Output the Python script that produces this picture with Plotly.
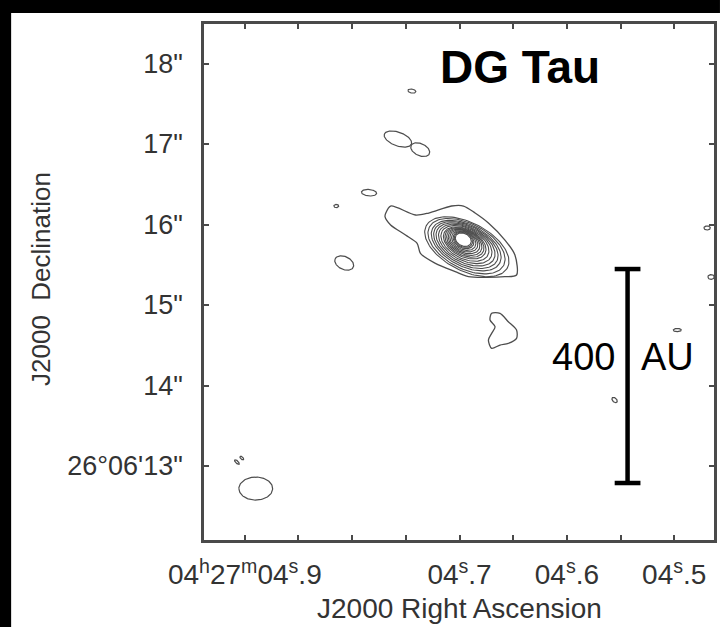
import numpy as np
import plotly.graph_objects as go

# ---------------- data (RA = seconds of 04h27m04s.x, Dec = arcsec of +26d06') ----------------
ARCSEC_PER_S = 13.42   # arcsec of sky per second of RA at this declination

# outer irregular contour around the jet/disk
outer_ra = [0.7688, 0.7642, 0.7410, 0.7287, 0.7074, 0.6963, 0.6855, 0.6731, 0.6577, 0.6484,
            0.6469, 0.6577, 0.6917, 0.7040, 0.7225, 0.7364, 0.7395, 0.7503, 0.7642, 0.7694, 0.7688]
outer_dec = [16.139, 16.230, 16.118, 16.143, 16.230, 16.230, 16.143, 16.019, 15.807, 15.621,
             15.373, 15.352, 15.352, 15.414, 15.518, 15.642, 15.767, 15.870, 15.994, 16.097, 16.139]

# kidney-shaped contour to the south-west
kidney_ra = [0.6701, 0.6623, 0.6546, 0.6469, 0.6469, 0.6546, 0.6623, 0.6701, 0.6731, 0.6701,
             0.6669, 0.6716, 0.6701]
kidney_dec = [14.897, 14.897, 14.793, 14.689, 14.586, 14.524, 14.503, 14.462, 14.565, 14.648,
              14.730, 14.814, 14.897]

# nested contours of the central source (centre, semi-axes in arcsec, position angle in deg)
ring_ra = [0.6932, 0.6935, 0.6938, 0.6941, 0.6944, 0.6947, 0.6950, 0.6952, 0.6954, 0.6956,
           0.6958, 0.6960, 0.6961, 0.6963, 0.6964, 0.6965]
ring_dec = [15.724, 15.731, 15.738, 15.745, 15.752, 15.759, 15.766, 15.772, 15.778, 15.784,
            15.790, 15.796, 15.801, 15.807, 15.810, 15.812]
ring_a = [0.571, 0.522, 0.472, 0.435, 0.398, 0.360, 0.323, 0.286, 0.261, 0.236,
          0.211, 0.186, 0.161, 0.137, 0.120, 0.105]
ring_b = [0.300, 0.280, 0.258, 0.240, 0.222, 0.205, 0.188, 0.170, 0.158, 0.146,
          0.134, 0.122, 0.110, 0.098, 0.088, 0.078]
ring_pa = [63, 63, 63, 63, 63, 63, 63, 63, 63, 63, 63, 63, 63, 63, 63, 63]

# small compact contours: two lobes of the figure-eight, small islands, the beam (lower left)
blob_ra = [0.7574, 0.7366, 0.7843, 0.8074, 0.8898, 0.7444, 0.8148, 0.9074, 0.9028, 0.4694,
           0.4657, 0.4972, 0.5556]
blob_dec = [17.062, 16.930, 16.395, 15.522, 12.720, 17.658, 16.230, 13.050, 13.099, 15.957,
            15.348, 14.689, 13.820]
blob_a = [0.180, 0.125, 0.095, 0.125, 0.211, 0.050, 0.030, 0.040, 0.030, 0.040, 0.040, 0.050, 0.040]
blob_b = [0.085, 0.075, 0.040, 0.080, 0.143, 0.025, 0.020, 0.015, 0.015, 0.025, 0.030, 0.020, 0.025]
blob_pa = [70, 66, 85, 65, 90, 80, 90, 45, 45, 90, 90, 90, 45]

# axis ticks
x_tickvals = [0.90, 0.85, 0.80, 0.75, 0.70, 0.65, 0.60, 0.55, 0.50]
x_ticktext = ["04<sup>h</sup>27<sup>m</sup>04<sup>s</sup>.9", "", "", "",
              "04<sup>s</sup>.7", "", "04<sup>s</sup>.6", "", "04<sup>s</sup>.5"]
y_tickvals = [13, 14, 15, 16, 17, 18]
y_ticktext = ["26°06'13\"", "14\"", "15\"", "16\"", "17\"", "18\""]

# scale bar (400 AU)
bar_ra = 0.5435
bar_dec_lo = 12.789
bar_dec_hi = 15.447
bar_label_dec = 14.354

# ---------------- figure ----------------
CCOL = "#4d4d4d"


def ellipse(s0, d0, a, b, pa_deg, n=120):
    t = np.linspace(0, 2 * np.pi, n)
    pa = np.radians(pa_deg)
    e = a * np.cos(t) * np.sin(pa) + b * np.sin(t) * np.cos(pa)
    nn = a * np.cos(t) * np.cos(pa) - b * np.sin(t) * np.sin(pa)
    return s0 + e / ARCSEC_PER_S, d0 + nn


fig = go.Figure()


def add_line(xs, ys, w=1.3, shape="linear"):
    fig.add_trace(go.Scatter(x=xs, y=ys, mode="lines",
                             line=dict(color=CCOL, width=w, shape=shape, smoothing=0.8),
                             hoverinfo="skip", showlegend=False))


add_line(outer_ra, outer_dec, 1.3, "spline")
add_line(kidney_ra, kidney_dec, 1.3, "spline")
for i in range(len(ring_ra)):
    xs, ys = ellipse(ring_ra[i], ring_dec[i], ring_a[i], ring_b[i], ring_pa[i])
    add_line(xs, ys, 1.1)
for i in range(len(blob_ra)):
    xs, ys = ellipse(blob_ra[i], blob_dec[i], blob_a[i], blob_b[i], blob_pa[i])
    add_line(xs, ys, 1.2)

L, R, T, B = 204, 4, 24, 87
W, H = 721, 627
pw, ph = W - L - R, H - T - B


def px_to_paper_x(px):
    return (px - L) / pw


def px_to_paper_y(py):
    return (H - B - py) / ph


shapes = [
    # black frame bands (left and top)
    dict(type="rect", xref="paper", yref="paper", x0=px_to_paper_x(-2), x1=px_to_paper_x(10),
         y0=px_to_paper_y(H + 2), y1=px_to_paper_y(-2), fillcolor="black", line=dict(width=0)),
    dict(type="rect", xref="paper", yref="paper", x0=px_to_paper_x(-2), x1=px_to_paper_x(W + 2),
         y0=px_to_paper_y(13), y1=px_to_paper_y(-2), fillcolor="black", line=dict(width=0)),
    # scale bar
    dict(type="line", xref="x", yref="y", x0=bar_ra, x1=bar_ra, y0=bar_dec_lo, y1=bar_dec_hi,
         line=dict(color="black", width=4.5)),
    dict(type="line", xref="x", yref="y", x0=bar_ra + 0.012, x1=bar_ra - 0.012, y0=bar_dec_lo, y1=bar_dec_lo,
         line=dict(color="black", width=4.5)),
    dict(type="line", xref="x", yref="y", x0=bar_ra + 0.012, x1=bar_ra - 0.012, y0=bar_dec_hi, y1=bar_dec_hi,
         line=dict(color="black", width=4.5)),
]

FONT = "Liberation Sans, Arial, Helvetica, sans-serif"
annotations = [
    dict(text="<b>DG Tau</b>", x=0.6440, y=17.957, xref="x", yref="y", showarrow=False,
         xanchor="center", yanchor="middle",
         font=dict(family=FONT, size=46, color="black")),
    dict(text="400", x=bar_ra + 0.0102, y=bar_label_dec, xref="x", yref="y", showarrow=False,
         xanchor="right", yanchor="middle", font=dict(family=FONT, size=38, color="black")),
    dict(text="AU", x=bar_ra - 0.0111, y=bar_label_dec, xref="x", yref="y", showarrow=False,
         xanchor="left", yanchor="middle", font=dict(family=FONT, size=38, color="black")),
    dict(text="J2000 Right Ascension", x=px_to_paper_x(461), y=px_to_paper_y(608), xref="paper",
         yref="paper", showarrow=False, xanchor="center", yanchor="middle",
         font=dict(family=FONT, size=28, color="#333333")),
    dict(text="J2000  Declination", x=px_to_paper_x(40), y=px_to_paper_y(279), xref="paper",
         yref="paper", showarrow=False, textangle=-90, xanchor="center", yanchor="middle",
         font=dict(family=FONT, size=26, color="#333333")),
]

axis_common = dict(showline=True, linecolor="#4a4a4a", linewidth=2.5, mirror="allticks",
                   ticks="inside", ticklen=5, tickwidth=1.5, tickcolor="#4a4a4a",
                   showgrid=False, zeroline=False)

fig.update_layout(
    width=W, height=H,
    margin=dict(l=L, r=R, t=T, b=B, pad=0),
    paper_bgcolor="white", plot_bgcolor="white",
    xaxis=dict(range=[0.938, 0.463], tickvals=x_tickvals, ticktext=x_ticktext,
               ticklabelstandoff=8, tickfont=dict(family=FONT, size=28, color="#333333"),
               **axis_common),
    yaxis=dict(range=[12.081, 18.491], tickvals=y_tickvals, ticktext=y_ticktext,
               ticklabelstandoff=13, tickfont=dict(family=FONT, size=27, color="#333333"),
               **axis_common),
    shapes=shapes, annotations=annotations, showlegend=False,
)

fig.write_html("out.html")
